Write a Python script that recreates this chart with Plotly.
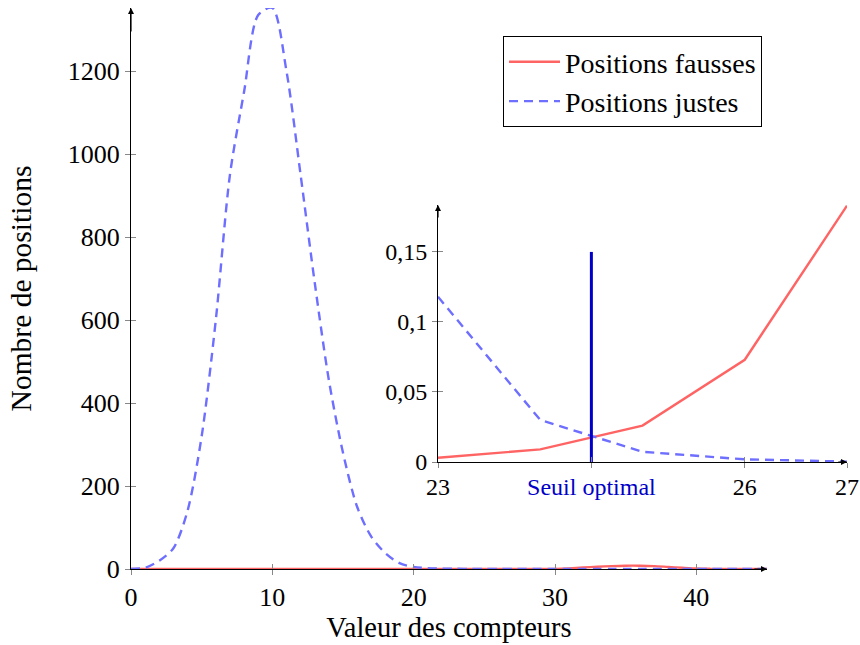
import plotly.graph_objects as go

# Main distribution: counter value vs number of positions
compteurs = list(range(0, 46))
positions_justes = [0, 3, 20, 50, 140, 320, 600, 950, 1150, 1335,
                    1352, 1200, 950, 690, 455, 280, 150, 78, 38, 14,
                    5, 2, 1, 0.5, 0.3, 0.2, 0.1, 0, 0, 0,
                    0, 0, 0, 0, 0, 0, 0, 0, 0, 0,
                    0, 0, 0, 0, 0, 0]
positions_fausses = [0] * 30 + [0.3, 1.5, 3.5, 5.5, 7, 8, 8, 7, 5, 3,
                                1.2, 0.4, 0, 0, 0, 0]

# Zoomed view around the threshold
zoom_x = [23, 24, 25, 26, 27]
zoom_fausses = [0.003, 0.009, 0.026, 0.073, 0.183]
zoom_justes = [0.118, 0.030, 0.0073, 0.0019, 0.0003]
seuil = 24.5
seuil_haut = 0.15

main_xticks = [0, 10, 20, 30, 40]
main_yticks = [0, 200, 400, 600, 800, 1000, 1200]
zoom_xticks = [23, 24.5, 26, 27]
zoom_xlabels = ["23", '<span style="color:#0000c8">Seuil optimal</span>', "26", "27"]
zoom_yticks = [0, 0.05, 0.1, 0.15]
zoom_ylabels = ["0", "0,05", "0,1", "0,15"]

W, H = 860, 645
SERIF = "Liberation Serif"
RED = "#ff6464"
BLUE = "#6e6eff"
DARKBLUE = "#0000c8"
DASH = "9px,6px"

fig = go.Figure()

fig.add_trace(go.Scatter(x=compteurs, y=positions_fausses, mode="lines",
                         line=dict(color=RED, width=2.4, shape="spline", smoothing=0.8),
                         name="Positions fausses", xaxis="x", yaxis="y"))
fig.add_trace(go.Scatter(x=compteurs, y=positions_justes, mode="lines",
                         line=dict(color=BLUE, width=2.4, dash=DASH, shape="spline", smoothing=0.8),
                         name="Positions justes", xaxis="x", yaxis="y"))

fig.add_trace(go.Scatter(x=zoom_x, y=zoom_fausses, mode="lines",
                         line=dict(color=RED, width=2.4), showlegend=False,
                         xaxis="x2", yaxis="y2"))
fig.add_trace(go.Scatter(x=zoom_x, y=zoom_justes, mode="lines",
                         line=dict(color=BLUE, width=2.4, dash=DASH), showlegend=False,
                         xaxis="x2", yaxis="y2"))
fig.add_trace(go.Scatter(x=[seuil, seuil], y=[0, seuil_haut], mode="lines",
                         line=dict(color=DARKBLUE, width=3), showlegend=False,
                         xaxis="x2", yaxis="y2"))

# placeholder traces so the overlay axes (inner half of the ticks) are drawn
fig.add_trace(go.Scatter(x=[], y=[], xaxis="x3", yaxis="y3", showlegend=False))
fig.add_trace(go.Scatter(x=[], y=[], xaxis="x4", yaxis="y4", showlegend=False))

main_xdom = [131 / W, 767 / W]
main_ydom = [(H - 569) / H, (H - 8) / H]
zoom_xdom = [438 / W, 847 / W]
zoom_ydom = [(H - 462) / H, (H - 205) / H]
main_xr = [0, 45]
main_yr = [0, 1352]
zoom_xr = [23, 27]
zoom_yr = [0, 0.1835]

tick_common = dict(showgrid=False, zeroline=False, ticklen=5, tickcolor="#888888",
                   tickwidth=1, automargin=False)

fig.update_layout(
    width=W, height=H,
    margin=dict(l=0, r=0, t=0, b=0),
    paper_bgcolor="white", plot_bgcolor="rgba(0,0,0,0)",
    font=dict(family=SERIF, color="black", size=26),
    xaxis=dict(domain=main_xdom, range=main_xr, anchor="y", tickmode="array",
               tickvals=main_xticks, ticks="outside", showline=True,
               linecolor="black", linewidth=1.3, tickfont=dict(size=26),
               title=dict(text="Valeur des compteurs", font=dict(size=28.5), standoff=2),
               **tick_common),
    yaxis=dict(domain=main_ydom, range=main_yr, anchor="x", tickmode="array",
               tickvals=main_yticks, ticks="outside", showline=True,
               linecolor="black", linewidth=1.3, tickfont=dict(size=26),
               title=dict(text="Nombre de positions", font=dict(size=29.5), standoff=27),
               **tick_common),
    xaxis3=dict(overlaying="x", range=main_xr, anchor="y3", tickmode="array",
                tickvals=main_xticks, ticks="inside", showticklabels=False,
                showline=False, **tick_common),
    yaxis3=dict(overlaying="y", range=main_yr, anchor="x3", tickmode="array",
                tickvals=main_yticks, ticks="inside", showticklabels=False,
                showline=False, **tick_common),
    xaxis2=dict(domain=zoom_xdom, range=zoom_xr, anchor="y2", tickmode="array",
                tickvals=zoom_xticks, ticktext=zoom_xlabels, ticks="outside",
                showline=True, linecolor="black", linewidth=1,
                tickfont=dict(size=24), ticklabelstandoff=-2, **tick_common),
    yaxis2=dict(domain=zoom_ydom, range=zoom_yr, anchor="x2", tickmode="array",
                tickvals=zoom_yticks, ticktext=zoom_ylabels, ticks="outside",
                showline=True, linecolor="black", linewidth=1,
                tickfont=dict(size=24), **tick_common),
    xaxis4=dict(overlaying="x2", range=zoom_xr, anchor="y4", tickmode="array",
                tickvals=zoom_xticks, ticks="inside", showticklabels=False,
                showline=False, **tick_common),
    yaxis4=dict(overlaying="y2", range=zoom_yr, anchor="x4", tickmode="array",
                tickvals=zoom_yticks, ticks="inside", showticklabels=False,
                showline=False, **tick_common),
    legend=dict(x=503 / W, y=(H - 36) / H, xanchor="left", yanchor="top",
                bordercolor="black", borderwidth=1, bgcolor="white",
                font=dict(size=28), itemwidth=51, traceorder="normal",
                entrywidth=221, entrywidthmode="pixels"),
    showlegend=True,
)

# arrow tips at the end of each axis
arrow = dict(text="", showarrow=True, arrowhead=2, arrowsize=1, arrowwidth=1.2,
             arrowcolor="black")
fig.add_annotation(x=main_xr[1], y=0, ax=main_xr[1] - 1, ay=0, xref="x", yref="y",
                   axref="x", ayref="y", **arrow)
fig.add_annotation(x=0, y=main_yr[1], ax=0, ay=main_yr[1] - 60, xref="x", yref="y",
                   axref="x", ayref="y", **arrow)
fig.add_annotation(x=zoom_xr[1], y=0, ax=zoom_xr[1] - 0.1, ay=0, xref="x2", yref="y2",
                   axref="x2", ayref="y2", **arrow)
fig.add_annotation(x=zoom_xr[0], y=zoom_yr[1], ax=zoom_xr[0], ay=zoom_yr[1] - 0.01,
                   xref="x2", yref="y2", axref="x2", ayref="y2", **arrow)

fig.write_html("out.html")
